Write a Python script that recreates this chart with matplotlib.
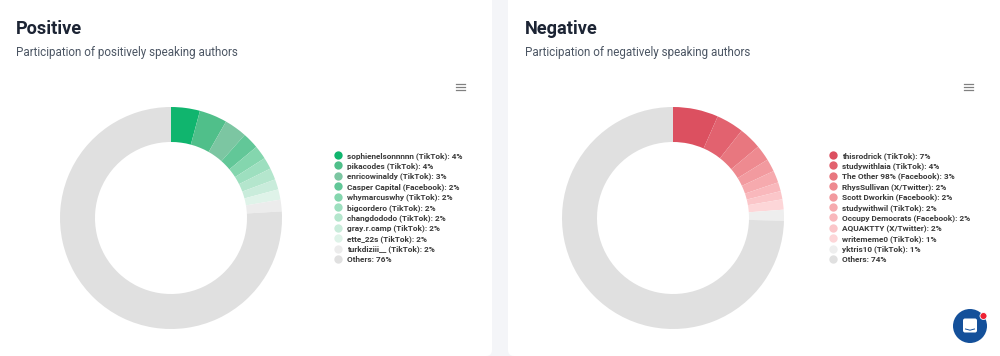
import matplotlib
matplotlib.use("Agg")
import matplotlib.pyplot as plt
from matplotlib.lines import Line2D
from matplotlib.patches import Circle, FancyBboxPatch

W, H = 1000, 356

# --- data ---
pos_authors = ["sophienelsonnnnn (TikTok)", "pikacodes (TikTok)", "enricowinaldy (TikTok)",
               "Casper Capital (Facebook)", "whymarcuswhy (TikTok)", "bigcordero (TikTok)",
               "changdododo (TikTok)", "gray.r.camp (TikTok)", "ette_22s (TikTok)",
               "turkdiziii__ (TikTok)", "Others"]
pos_values = [4.2, 4.05, 3.3, 2.4, 2.0, 1.7, 1.7, 1.5, 1.5, 1.7, 75.95]
pos_labels = ["4%", "4%", "3%", "2%", "2%", "2%", "2%", "2%", "2%", "2%", "76%"]
pos_colors = ["#10b56e", "#50bf8a", "#7cc6a2", "#62c798", "#84d6ae", "#9ddfbf",
              "#b4e6cd", "#c9ecdb", "#dff3e9", "#ececec", "#e0e0e0"]

neg_authors = ["thisrodrick (TikTok)", "studywithlaia (TikTok)", "The Other 98% (Facebook)",
               "RhysSullivan (X/Twitter)", "Scott Dworkin (Facebook)", "studywithwil (TikTok)",
               "Occupy Democrats (Facebook)", "AQUAKTTY (X/Twitter)", "writememe0 (TikTok)",
               "yktris10 (TikTok)", "Others"]
neg_values = [6.6, 4.0, 3.3, 2.3, 1.85, 1.75, 1.3, 1.2, 1.5, 1.6, 74.6]
neg_labels = ["7%", "4%", "3%", "2%", "2%", "2%", "2%", "2%", "1%", "1%", "74%"]
neg_colors = ["#dc5060", "#e2626f", "#e8777f", "#ee8a90", "#f29a9f", "#f6aaae",
              "#f9b8bc", "#fbc6c9", "#fdd6d8", "#eeeeee", "#e0e0e0"]

plt.rcParams["font.family"] = ["Roboto", "DejaVu Sans"]

fig = plt.figure(figsize=(W / 100, H / 100), dpi=100, facecolor="#f4f5f8")

# background layer in pixel units
bg = fig.add_axes([0, 0, 1, 1])
bg.set_xlim(0, W)
bg.set_ylim(H, 0)
bg.axis("off")


def draw_card(x0, x1, text_x, title, subtitle, menu_x):
    bg.add_patch(FancyBboxPatch((x0 + 6, -20), x1 - x0 - 12, H + 14,
                                boxstyle="round,pad=6,rounding_size=6",
                                fc="white", ec="none"))
    bg.text(text_x, 33.5, title, fontsize=13.1, fontweight="bold", color="#1c2434")
    bg.text(text_x, 56, subtitle, fontsize=8.42, color="#4b5563")
    for y in (83.5, 86.8, 90):
        bg.plot([menu_x - 4.5, menu_x + 4.5], [y, y], color="#808080", lw=0.9)


def draw_donut(cx, cy, r, values, colors, authors, labels, legend_x, legend_y):
    ax = fig.add_axes([(cx - r) / W, 1 - (cy + r) / H, 2 * r / W, 2 * r / H])
    ax.pie(values, colors=colors, startangle=90, counterclock=False, radius=1,
           wedgeprops={"width": 35 / r, "linewidth": 0})
    ax.set_xlim(-1, 1)
    ax.set_ylim(-1, 1)
    handles = [Line2D([], [], ls="", marker="o", ms=6.0, mfc=c, mec="none") for c in colors]
    texts = [f"{a}: {l}" for a, l in zip(authors, labels)]
    ax.legend(handles, texts, loc="upper left", bbox_to_anchor=(legend_x / W, 1 - legend_y / H),
              bbox_transform=fig.transFigure, frameon=False, borderpad=0, borderaxespad=0,
              labelcolor="#3a3a3a", prop={"weight": "bold", "size": 5.95},
              labelspacing=0.33, handlelength=1.05, handletextpad=0.55)


draw_card(-6, 492, 16, "Positive", "Participation of positively speaking authors", 460.5)
draw_card(508, 1006, 525, "Negative", "Participation of negatively speaking authors", 968.5)

draw_donut(171, 218, 111, pos_values, pos_colors, pos_authors, pos_labels, 333.5, 152)
draw_donut(673, 218, 111, neg_values, neg_colors, neg_authors, neg_labels, 829, 152)

# chat bubble, bottom right
top = fig.add_axes([0, 0, 1, 1], facecolor="none")
top.set_xlim(0, W)
top.set_ylim(H, 0)
top.axis("off")
top.add_patch(Circle((970, 326), 17, fc="#14509a", ec="none"))
top.add_patch(FancyBboxPatch((964.5, 320), 11, 11, boxstyle="round,pad=1.5,rounding_size=2",
                             fc="white", ec="none"))
top.plot([965.5, 970, 974.5], [329, 330.2, 329], color="#14509a", lw=0.7)
top.add_patch(Circle((983.5, 316), 3.5, fc="#ee2233", ec="white", lw=0.6))

fig.savefig("out.png", dpi=100, facecolor=fig.get_facecolor())
